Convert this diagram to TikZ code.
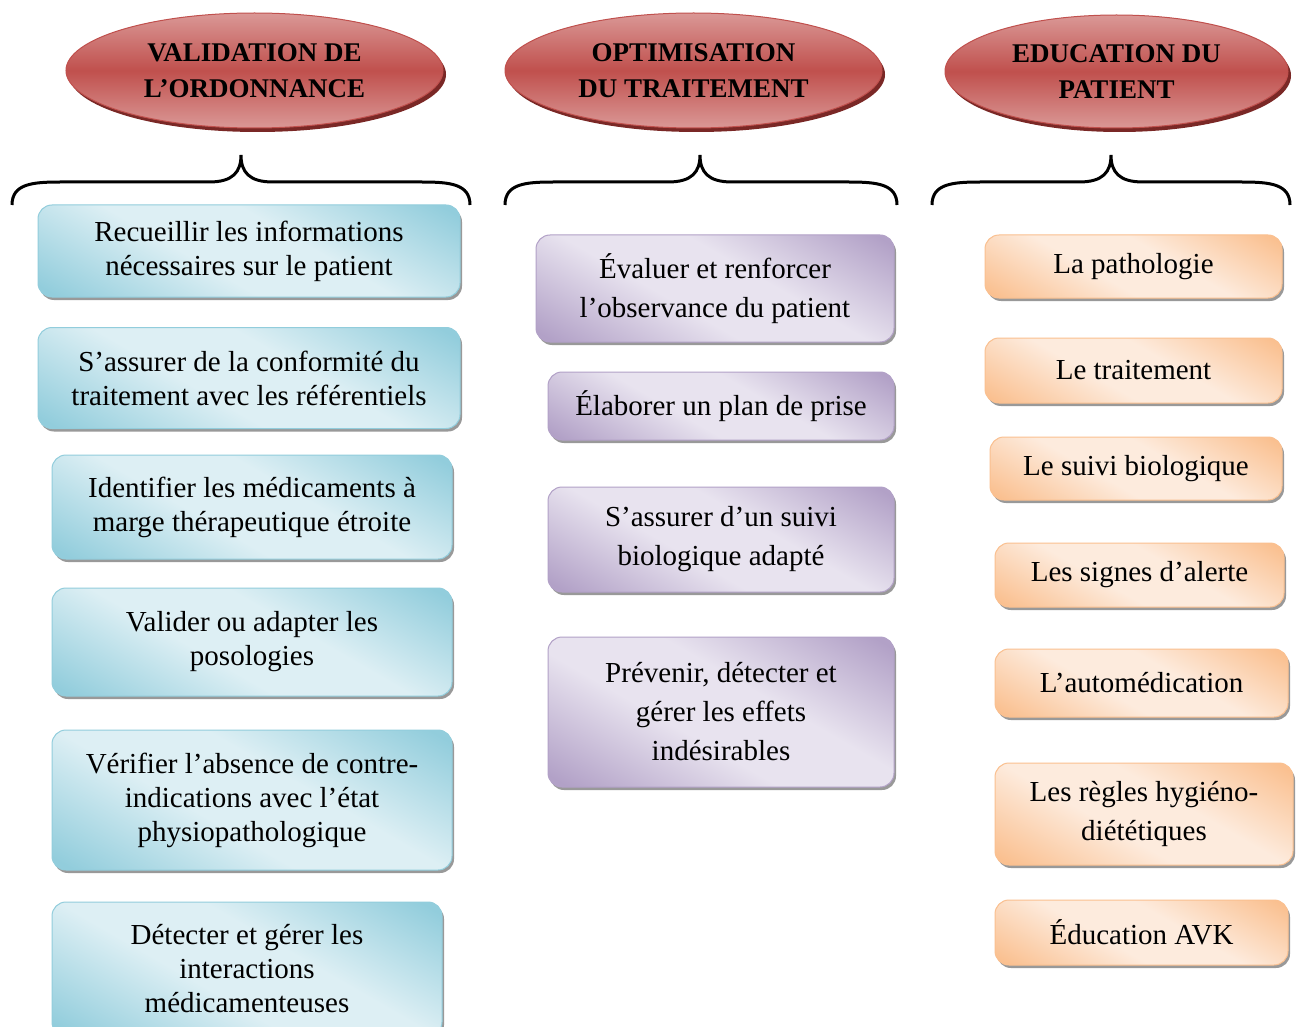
\documentclass[tikz,border=0pt]{standalone}
\usepackage{fontspec}
\setmainfont{Liberation Serif}
\usetikzlibrary{shadows,shapes.geometric}

\definecolor{bleuf}{HTML}{92CDDC}
\definecolor{bleuc}{HTML}{DDEFF4}
\definecolor{violf}{HTML}{B2A1C7}
\definecolor{violc}{HTML}{E8E3EF}
\definecolor{oranf}{HTML}{FAC090}
\definecolor{oranc}{HTML}{FDEBDD}
\definecolor{rougef}{HTML}{C0504D}
\definecolor{rougec}{HTML}{DA9896}
\definecolor{rouges}{HTML}{7A2826}

\pgfdeclarehorizontalshading{bleu}{100bp}{color(0bp)=(bleuf); color(18bp)=(bleuf); color(42bp)=(bleuc); color(58bp)=(bleuc); color(82bp)=(bleuf); color(100bp)=(bleuf)}
\pgfdeclarehorizontalshading{viol}{100bp}{color(0bp)=(violf); color(18bp)=(violf); color(42bp)=(violc); color(58bp)=(violc); color(82bp)=(violf); color(100bp)=(violf)}
\pgfdeclarehorizontalshading{oran}{100bp}{color(0bp)=(oranf); color(18bp)=(oranf); color(42bp)=(oranc); color(58bp)=(oranc); color(82bp)=(oranf); color(100bp)=(oranf)}
\pgfdeclareverticalshading{rouge}{100bp}{color(0bp)=(rougec); color(25bp)=(rougec); color(50bp)=(rougef); color(75bp)=(rougec); color(100bp)=(rougec)}

\tikzset{
  boite/.style={rounded corners=14pt, align=center, inner sep=0pt,
    font=\fontsize{29}{34}\selectfont, line width=1pt,
    drop shadow={shadow xshift=2pt, shadow yshift=-3pt, fill=black!40, opacity=1}},
  bleue/.style={boite, draw=bleuf, shading=bleu, shading angle=60},
  violette/.style={boite, draw=violf, shading=viol, shading angle=60, font=\fontsize{29}{39}\selectfont},
  orange/.style={boite, draw=oranf, shading=oran, shading angle=60, font=\fontsize{29}{39}\selectfont},
  titre/.style={ellipse, align=center, inner sep=0pt, draw=rougef, line width=1pt,
    shading=rouge, font=\fontsize{27}{36}\selectfont\bfseries,
    drop shadow={shadow xshift=3pt, shadow yshift=-4pt, fill=rouges, opacity=1}},
}
\newcommand{\accolade}[3]{% gauche, pointe, droite
  \draw[line width=3pt] (#1,205) .. controls (#1,184) and (#1+20,182) .. (#1+48,182)
    -- (#2-32,182) .. controls (#2-8,182) and (#2,172) .. (#2,155)
    .. controls (#2,172) and (#2+8,182) .. (#2+32,182)
    -- (#3-48,182) .. controls (#3-20,182) and (#3,184) .. (#3,205);}

\begin{document}
\begin{tikzpicture}[x=1pt,y=-1pt]
  \clip (0,0) rectangle (1296,1027);
  \fill[white] (0,0) rectangle (1296,1027);

  % titres
  \node[titre, minimum width=377, minimum height=115] (valid) at (254.5,70.5) {VALIDATION DE\\L’ORDONNANCE};
  \node[titre, minimum width=377, minimum height=115] (optim) at (693.5,70.5) {OPTIMISATION\\DU TRAITEMENT};
  \node[titre, minimum width=343, minimum height=113] (educ) at (1116.5,71.5) {EDUCATION DU\\PATIENT};

  % accolades
  \accolade{12}{241}{470}
  \accolade{505}{700}{897}
  \accolade{932}{1111}{1290}

  % validation de l'ordonnance
  \node[bleue, minimum width=422, minimum height=92] (recueil) at (249,251) {Recueillir les informations\\nécessaires sur le patient};
  \node[bleue, minimum width=422, minimum height=101] (conform) at (249,378) {S’assurer de la conformité du\\traitement avec les référentiels};
  \node[bleue, minimum width=400, minimum height=104] (marge) at (252,507) {Identifier les médicaments à\\marge thérapeutique étroite};
  \node[bleue, minimum width=400, minimum height=108] (poso) at (252,642) {Valider ou adapter les\\posologies};
  \node[bleue, minimum width=400, minimum height=140] (contre) at (252,800) {Vérifier l’absence de contre-\\indications avec l’état\\physiopathologique};
  \node[bleue, minimum width=390, minimum height=134] (interac) at (247,969) {Détecter et gérer les\\interactions\\médicamenteuses};

  % optimisation du traitement
  \node[violette, minimum width=358, minimum height=107] (observ) at (715,288.5) {Évaluer et renforcer\\l’observance du patient};
  \node[violette, minimum width=346, minimum height=68] (plan) at (721,406) {Élaborer un plan de prise};
  \node[violette, minimum width=346, minimum height=105] (suivi) at (721,539.5) {S’assurer d’un suivi\\biologique adapté};
  \node[violette, minimum width=346, minimum height=150] (effets) at (721,712) {Prévenir, détecter et\\gérer les effets\\indésirables};

  % education du patient
  \node[orange, minimum width=297, minimum height=63] (patho) at (1133.5,266.5) {La pathologie};
  \node[orange, minimum width=297, minimum height=65] (trait) at (1133.5,370.5) {Le traitement};
  \node[orange, minimum width=292, minimum height=63] (biolo) at (1136,468.5) {Le suivi biologique};
  \node[orange, minimum width=289, minimum height=64] (alerte) at (1139.5,575) {Les signes d’alerte};
  \node[orange, minimum width=293, minimum height=68] (automed) at (1141.5,683) {L’automédication};
  \node[orange, minimum width=298, minimum height=102] (regles) at (1144,814) {Les règles hygiéno-\\diététiques};
  \node[orange, minimum width=293, minimum height=65] (avk) at (1141.5,932.5) {Éducation AVK};
\end{tikzpicture}
\end{document}
